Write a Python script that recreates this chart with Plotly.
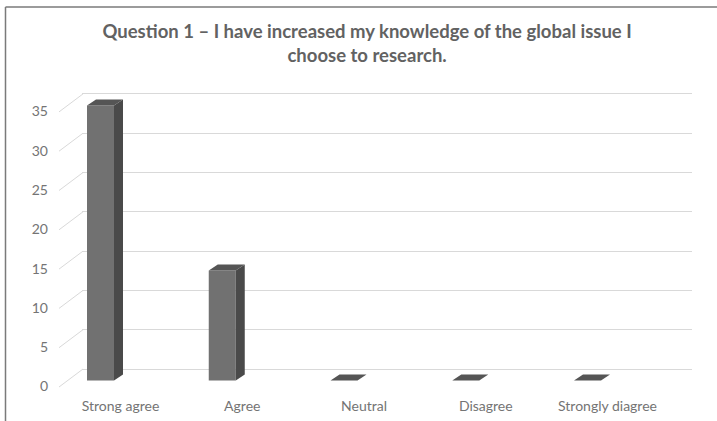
import plotly.graph_objects as go

# ---- data ----
categories = ["Strong agree", "Agree", "Neutral", "Disagree", "Strongly diagree"]
responses = [35, 14, 0, 0, 0]
y_ticks = [0, 5, 10, 15, 20, 25, 30, 35]
title_text = "Question 1 \u2013 I have increased my knowledge of the global issue I<br>choose to research."

# ---- page geometry (pixels) ----
W, H = 717, 421
PLOT_TOP, PLOT_BOTTOM = 85, 396          # vertical extent of both subplots
WALL_LEFT, WALL_RIGHT = 82, 692          # back wall (gridlines)
FRONT_LEFT, FRONT_RIGHT = 50, 700        # bar subplot horizontal extent
CAT_STEP = 121.75                        # pixels between categories
FIRST_BAR_X = 100.5                      # pixel centre of first bar front
BAR_BASE = 380.5                         # pixel of value 0 at bar front
WALL_BASE = 369.0                        # pixel of value 0 on back wall
PX_PER_UNIT = 7.86                       # vertical pixels per response
BAR_W_PX = 27                            # bar front width
DEPTH_DX, DEPTH_DY = 9, 6                # side/top face depth (px)
LABEL_DROP = 6.5                         # value labels sit below bar front
CAT_LABEL_SHIFT = 20                     # category labels sit right of bar front
DIAG_X0, DIAG_X1 = 59, 83                # left wall diagonal end points (px)
TITLE_MID = 38                           # vertical centre of the two-line title

def yfrac(py):
    return 1 - py / H

def xrange_for(left_px, right_px):
    return [(left_px - FIRST_BAR_X) / CAT_STEP, (right_px - FIRST_BAR_X) / CAT_STEP]

def yrange_for(base_px):
    return [(base_px - PLOT_BOTTOM) / PX_PER_UNIT, (base_px - PLOT_TOP) / PX_PER_UNIT]

def px_to_x(px):
    return (px - FIRST_BAR_X) / CAT_STEP

xs = list(range(len(categories)))
bw = BAR_W_PX / CAT_STEP
ddx = DEPTH_DX / CAT_STEP
ddy = DEPTH_DY / PX_PER_UNIT

FRONT = "#717171"
SIDE = "#4a4a4a"
TOP = "#555555"
GRID = "#d9d9d9"
TEXT = "#747474"

fig = go.Figure()

# back wall subplot (x, y): carries the horizontal gridlines only
fig.add_trace(go.Scatter(x=[], y=[], xaxis="x", yaxis="y", showlegend=False, hoverinfo="skip"))

# left wall: diagonals from the value labels back to each gridline
dx_, dy_ = [], []
for v in y_ticks:
    dx_ += [px_to_x(DIAG_X0), px_to_x(DIAG_X1), None]
    dy_ += [v - LABEL_DROP / PX_PER_UNIT, v + (BAR_BASE - WALL_BASE) / PX_PER_UNIT, None]
fig.add_trace(go.Scatter(x=dx_, y=dy_, xaxis="x2", yaxis="y2", mode="lines",
                         line=dict(color=GRID, width=1), showlegend=False, hoverinfo="skip"))

# bar front faces
fig.add_trace(go.Bar(x=xs, y=responses, width=bw, xaxis="x2", yaxis="y2",
                     marker=dict(color=FRONT, line=dict(width=0)), showlegend=False))

# side faces
sx, sy = [], []
for x, v in zip(xs, responses):
    r = x + bw / 2
    sx += [r, r + ddx, r + ddx, r, r, None]
    sy += [0, ddy, v + ddy, v, 0, None]
fig.add_trace(go.Scatter(x=sx, y=sy, xaxis="x2", yaxis="y2", mode="lines", fill="toself",
                         fillcolor=SIDE, line=dict(width=0, color=SIDE),
                         showlegend=False, hoverinfo="skip"))

# top faces
tx, ty = [], []
for x, v in zip(xs, responses):
    l, r = x - bw / 2, x + bw / 2
    tx += [l, r, r + ddx, l + ddx, l, None]
    ty += [v, v, v + ddy, v + ddy, v, None]
fig.add_trace(go.Scatter(x=tx, y=ty, xaxis="x2", yaxis="y2", mode="lines", fill="toself",
                         fillcolor=TOP, line=dict(width=0, color=TOP),
                         showlegend=False, hoverinfo="skip"))

tick_font = dict(family="Lato, 'Open Sans', sans-serif", size=14, color=TEXT)

fig.update_layout(
    width=W, height=H,
    margin=dict(l=0, r=0, t=0, b=0),
    paper_bgcolor="white",
    plot_bgcolor="rgba(0,0,0,0)",
    title=dict(text=title_text, x=0.512, xanchor="center", y=yfrac(TITLE_MID), yanchor="middle",
               font=dict(family="Lato, 'Open Sans', sans-serif", size=18.5, color="#626262",
                         weight="bold")),
    xaxis=dict(domain=[WALL_LEFT / W, WALL_RIGHT / W], range=[0, 1], visible=False,
               anchor="y"),
    yaxis=dict(domain=[yfrac(PLOT_BOTTOM), yfrac(PLOT_TOP)], range=yrange_for(WALL_BASE),
               anchor="x", tickvals=y_ticks, showgrid=True, gridcolor=GRID, gridwidth=1.3,
               showticklabels=False, zeroline=False, showline=False, ticks=""),
    xaxis2=dict(domain=[FRONT_LEFT / W, FRONT_RIGHT / W], range=xrange_for(FRONT_LEFT, FRONT_RIGHT),
                anchor="y2", tickvals=xs, ticktext=categories, ticklabelshift=CAT_LABEL_SHIFT,
                showgrid=False, zeroline=False, showline=False, ticks="",
                tickfont=tick_font),
    yaxis2=dict(domain=[yfrac(PLOT_BOTTOM), yfrac(PLOT_TOP)], range=yrange_for(BAR_BASE),
                anchor="x2", tickvals=y_ticks, ticklabelshift=round(LABEL_DROP),
                ticklabelstandoff=1,
                showgrid=False, zeroline=False, showline=False, ticks="",
                tickfont=tick_font),
    shapes=[
        dict(type="line", xref="paper", yref="paper", x0=5.5 / W, x1=1.02,
             y0=yfrac(7), y1=yfrac(7), line=dict(color="#7a7a7a", width=1.5)),
        dict(type="line", xref="paper", yref="paper", x0=5.5 / W, x1=5.5 / W,
             y0=yfrac(7), y1=-0.05, line=dict(color="#7a7a7a", width=1.5)),
    ],
)

fig.write_html("out.html")
